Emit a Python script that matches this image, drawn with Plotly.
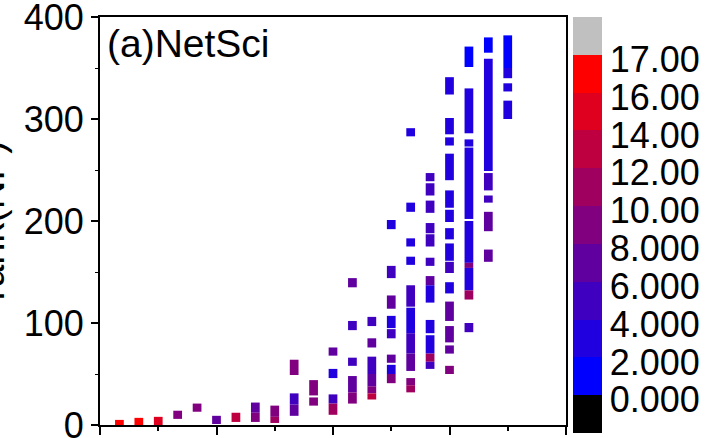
import plotly.graph_objects as go

# segments: column, bottom rank, top rank, colour value
seg_col = [1, 2, 3, 4, 5, 6, 7,
           8, 8, 9, 9,
           10, 10, 10, 11, 11,
           12, 12, 12, 12,
           13, 13, 13, 13, 13,
           14, 14, 14, 14, 14, 14,
           15, 15, 15, 15, 15, 15, 15, 15,
           16, 16, 16, 16, 16, 16, 16, 16, 16, 16,
           17, 17, 17, 17, 17, 17, 17, 17, 17, 17, 17, 17,
           18, 18, 18, 18, 18, 18, 18, 18, 18, 18, 18, 18, 18, 18,
           19, 19, 19, 19, 19, 19, 19, 19, 19,
           20, 20, 20, 20, 20, 20,
           21, 21, 21, 21]
seg_lo = [-4, -2, -1, 6, 13, 1, 3,
          12, 3, 8, 2,
          49, 20, 9, 29, 19,
          68, 46, 21, 10,
          135, 93, 58, 32, 21,
          97, 76, 50, 38, 31, 25,
          192, 144, 114, 95, 85, 61, 50, 41,
          283, 209, 175, 157, 116, 90, 70, 53, 39, 32,
          239, 225, 208, 188, 175, 156, 137, 120, 90, 70, 62, 55,
          324, 285, 274, 240, 213, 199, 182, 161, 149, 129, 102, 81, 70, 50,
          351, 286, 273, 202, 159, 154, 132, 123, 91,
          365, 249, 230, 218, 190, 160,
          350, 340, 327, 300]
seg_hi = [5, 7, 8, 14, 21, 9, 12,
          22, 12, 19, 8,
          64, 31, 20, 44, 27,
          76, 55, 30, 21,
          144, 102, 66, 48, 32,
          106, 85, 67, 50, 38, 31,
          201, 156, 127, 107, 94, 69, 59, 50,
          291, 218, 183, 165, 137, 115, 90, 70, 46, 39,
          247, 237, 220, 198, 187, 164, 146, 137, 103, 88, 70, 62,
          341, 301, 282, 266, 230, 211, 193, 178, 160, 140, 121, 97, 78, 58,
          371, 330, 280, 272, 200, 159, 154, 132, 100,
          380, 359, 247, 225, 209, 172,
          382, 350, 335, 318]
seg_val = [16.5, 16.5, 15, 9, 9, 7, 13,
           7, 9, 9, 11,
           9, 5, 7, 9, 9,
           7, 3, 5, 11,
           7, 5, 5, 7, 9,
           5, 7, 5, 7, 9, 13,
           3, 5, 7, 3, 5, 7, 3, 9,
           3, 3, 3, 3, 5, 3, 5, 7, 9, 11,
           5, 5, 5, 5, 5, 5, 7, 3, 3, 3, 11, 5,
           3, 3, 3, 3, 3, 3, 3, 3, 5, 3, 7, 7, 7, 9,
           1, 3, 3, 3, 3, 9, 3, 11, 5,
           1, 3, 5, 5, 7, 7,
           1, 3, 3, 3]

# colour bar levels (uneven, drawn as equal bands)
levels = [0, 2, 4, 6, 8, 10, 12, 14, 16, 17]
level_text = ["0.000", "2.000", "4.000", "6.000", "8.000",
              "10.00", "12.00", "14.00", "16.00", "17.00"]
band_colors = ["#000000", "#0000ff", "#2000df", "#4000bf", "#60009f",
               "#800080", "#9f0060", "#bf0040", "#df0020", "#ff0000", "#c0c0c0"]


def band_pos(v):
    # position of a value on the equal-band scale
    for i in range(len(levels) - 1):
        if v <= levels[i + 1]:
            lo, hi = levels[i], levels[i + 1]
            return i + (v - lo) / (hi - lo)
    return len(levels) - 0.5


colorscale = []
n = len(band_colors)
for i, c in enumerate(band_colors):
    colorscale.append([i / n, c])
    colorscale.append([(i + 1) / n, c])

FONT = "Liberation Sans, Arial, sans-serif"

fig = go.Figure()
fig.add_trace(go.Bar(
    x=seg_col,
    base=seg_lo,
    y=[h - l for l, h in zip(seg_lo, seg_hi)],
    width=0.45,
    marker=dict(color=[band_pos(v) for v in seg_val], coloraxis="coloraxis",
                line=dict(width=0)),
    showlegend=False,
))

fig.update_layout(
    width=707, height=438,
    margin=dict(l=100, r=141, t=17, b=13, autoexpand=False),
    paper_bgcolor="white", plot_bgcolor="white",
    barmode="overlay",
    font=dict(family=FONT, size=36, color="black"),
    coloraxis=dict(
        cmin=-1, cmax=10, colorscale=colorscale,
        colorbar=dict(
            x=1.015, xanchor="left", xpad=0,
            y=1, yanchor="top", ypad=0,
            len=416 / 408, lenmode="fraction",
            thickness=29, thicknessmode="pixels",
            outlinewidth=0, ticks="",
            # labels sit a little below the band edges, as in the original
            tickvals=[i - 0.12 for i in range(len(levels))], ticktext=level_text,
            tickfont=dict(family=FONT, size=36, color="black"),
        ),
    ),
    annotations=[
        dict(text="(a)NetSci", xref="paper", yref="paper", x=0.01, y=0.935,
             xanchor="left", yanchor="middle", showarrow=False,
             font=dict(family=FONT, size=39, color="black")),
        dict(text="rank(NP)", xref="paper", yref="paper", x=-0.184, y=0.502,
             xanchor="right", yanchor="middle", textangle=-90, showarrow=False,
             font=dict(family=FONT, size=40, color="black")),
    ],
)

fig.update_xaxes(
    range=[0, 24], tickvals=[0, 6, 12, 18, 24], showticklabels=False,
    ticks="outside", ticklen=8, tickwidth=2, tickcolor="black",
    minor=dict(tickvals=[3, 9, 15, 21], ticks="outside", ticklen=4,
               tickwidth=2, tickcolor="black"),
    showline=True, linecolor="black", linewidth=2, mirror=True,
    showgrid=False, zeroline=False, automargin=False,
)
fig.update_yaxes(
    range=[0, 400], tickvals=[0, 100, 200, 300, 400],
    ticks="outside", ticklen=7, tickwidth=2, tickcolor="black",
    minor=dict(tickvals=[50, 150, 250, 350], ticks="outside", ticklen=3,
               tickwidth=1, tickcolor="black"),
    tickfont=dict(family=FONT, size=36, color="black"),
    ticklabeloverflow="allow",
    showline=True, linecolor="black", linewidth=2, mirror=True,
    showgrid=False, zeroline=False, automargin=False,
)

fig.write_html("out.html", config={"displayModeBar": False},
               post_script="document.body.style.margin='0';")
